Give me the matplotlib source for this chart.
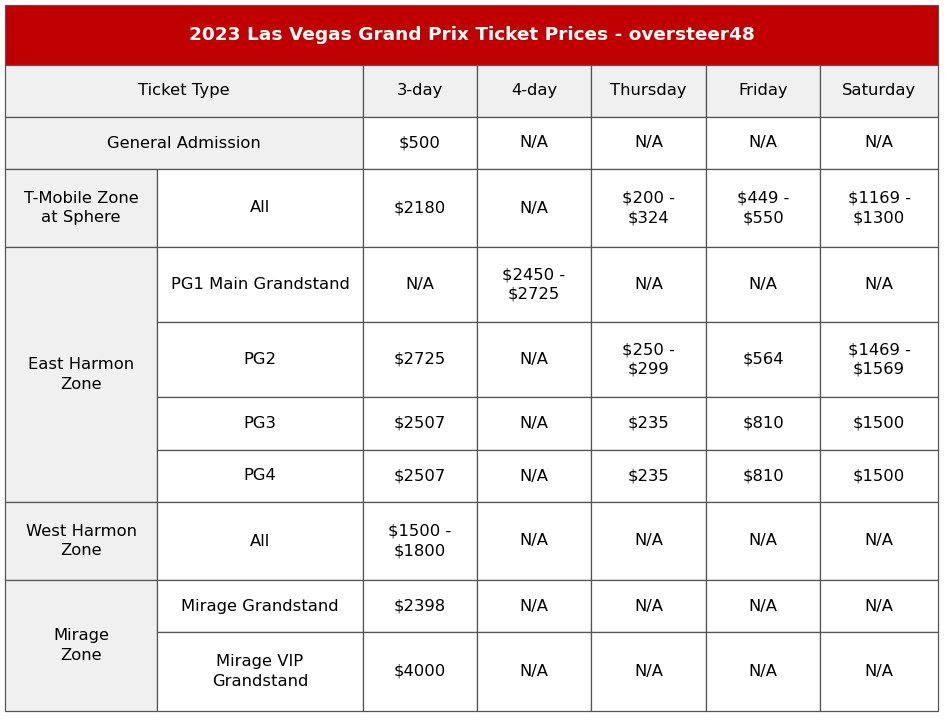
import matplotlib
matplotlib.use("Agg")
import matplotlib.pyplot as plt
from matplotlib.patches import Rectangle

title = "2023 Las Vegas Grand Prix Ticket Prices - oversteer48"
columns = ["3-day", "4-day", "Thursday", "Friday", "Saturday"]
zones = ["", "T-Mobile Zone\nat Sphere", "East Harmon\nZone", "", "", "", "West Harmon\nZone", "Mirage\nZone", ""]
zone_spans = [1, 1, 4, 0, 0, 0, 1, 2, 0]
sections = ["General Admission", "All", "PG1 Main Grandstand", "PG2", "PG3", "PG4", "All",
            "Mirage Grandstand", "Mirage VIP\nGrandstand"]
prices = [
    ["$500", "N/A", "N/A", "N/A", "N/A"],
    ["$2180", "N/A", "$200 -\n$324", "$449 -\n$550", "$1169 -\n$1300"],
    ["N/A", "$2450 -\n$2725", "N/A", "N/A", "N/A"],
    ["$2725", "N/A", "$250 -\n$299", "$564", "$1469 -\n$1569"],
    ["$2507", "N/A", "$235", "$810", "$1500"],
    ["$2507", "N/A", "$235", "$810", "$1500"],
    ["$1500 -\n$1800", "N/A", "N/A", "N/A", "N/A"],
    ["$2398", "N/A", "N/A", "N/A", "N/A"],
    ["$4000", "N/A", "N/A", "N/A", "N/A"],
]

W, H = 946, 724
xs = [5, 157, 363, 477, 591, 706, 820, 938]
ys = [117, 169, 247, 322, 397, 450, 502, 580, 632, 711]
top, head = 5, 65

fig = plt.figure(figsize=(W/100, H/100), dpi=100)
ax = fig.add_axes([0, 0, 1, 1])
ax.set_xlim(0, W); ax.set_ylim(H, 0); ax.axis("off")
FONT = "DejaVu Sans"
GRAY = "#f0f0f0"; LINE = "#555555"

def cell(x0, x1, y0, y1, text, fc="white", color="black", size=11.8, bold=False):
    ax.add_patch(Rectangle((x0, y0), x1-x0, y1-y0, facecolor=fc, edgecolor=LINE, lw=0.9))
    ax.text((x0+x1)/2, (y0+y1)/2, text, ha="center", va="center", fontsize=size,
            color=color, family=FONT, fontweight="bold" if bold else "normal", linespacing=1.4)

cell(xs[0], xs[-1], top, head, title, fc="#c00000", color="white", size=13.3, bold=True)
cell(xs[0], xs[2], head, ys[0], "Ticket Type", fc=GRAY)
for j, c in enumerate(columns):
    cell(xs[j+2], xs[j+3], head, ys[0], c, fc=GRAY)

for i in range(len(sections)):
    y0, y1 = ys[i], ys[i+1]
    if zones[i] == "" and zone_spans[i] == 1:
        cell(xs[0], xs[2], y0, y1, sections[i], fc=GRAY)
    else:
        if zone_spans[i] > 0:
            cell(xs[0], xs[1], y0, ys[i+zone_spans[i]], zones[i], fc=GRAY)
        cell(xs[1], xs[2], y0, y1, sections[i])
    for j, p in enumerate(prices[i]):
        cell(xs[j+2], xs[j+3], y0, y1, p)

fig.savefig("out.png", dpi=100, facecolor="white")
